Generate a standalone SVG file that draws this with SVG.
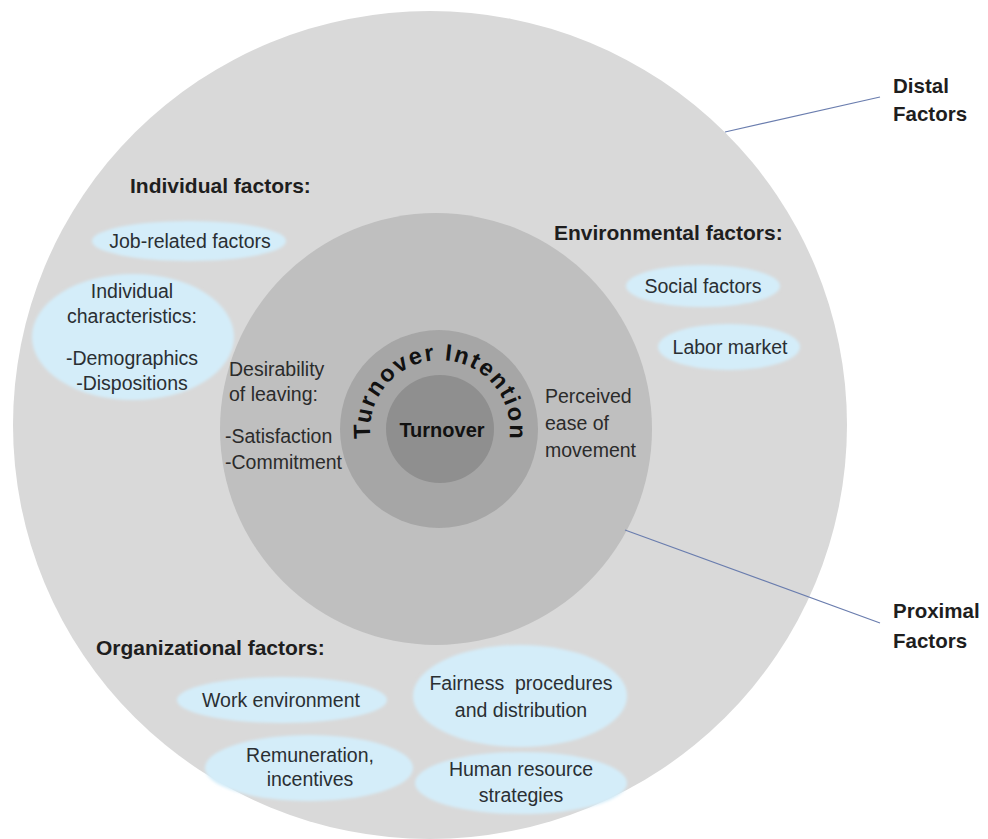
<svg xmlns="http://www.w3.org/2000/svg" width="988" height="839" viewBox="0 0 988 839">
  <style>
    text { font-family: "Liberation Sans", Arial, sans-serif; fill: #1e1e1e; }
    .hdr { font-size: 21px; font-weight: bold; }
    .side { font-size: 20.5px; font-weight: bold; }
    .lbl { font-size: 19.5px; fill: #2a2f33; }
    .ring { font-size: 19.5px; fill: #2b2b2b; }
    .pill { fill: #D4EDF9; filter: url(#soft); }
    .lead { stroke: #6A7DAE; stroke-width: 1.2; fill: none; }
  </style>
  <defs>
    <filter id="soft" x="-10%" y="-20%" width="120%" height="140%">
      <feGaussianBlur stdDeviation="1.6"/>
    </filter>
    <!-- baseline arc for the ring caption, r = 70 around (440, 430) -->
    <path id="arcTI" d="M 371.5 444.6 A 70 70 0 1 1 508.5 444.6"/>
  </defs>

  <rect width="988" height="839" fill="#ffffff"/>

  <!-- concentric layers -->
  <g id="distal">
    <ellipse cx="430" cy="425" rx="417" ry="414" fill="#D9D9D9"/>
  </g>
  <g id="proximal">
    <circle cx="436" cy="429" r="216" fill="#BFBFBF"/>
  </g>
  <g id="turnover-intention">
    <circle cx="439" cy="429" r="99" fill="#A6A6A6"/>
    <text style="font-size:23.5px;font-weight:bold;fill:#111">
      <textPath href="#arcTI" startOffset="50%" text-anchor="middle" textLength="236" lengthAdjust="spacing">Turnover Intention</textPath>
    </text>
  </g>
  <g id="turnover">
    <circle cx="440" cy="429" r="54" fill="#8F8F8F"/>
    <text x="442" y="437" text-anchor="middle" style="font-size:20px;font-weight:bold;fill:#111">Turnover</text>
  </g>

  <!-- proximal ring labels -->
  <g id="desirability">
    <text class="ring" x="229" y="376">Desirability</text>
    <text class="ring" x="229" y="401">of leaving:</text>
    <text class="ring" x="225" y="443">-Satisfaction</text>
    <text class="ring" x="225" y="469">-Commitment</text>
  </g>
  <g id="ease-of-movement">
    <text class="ring" x="545" y="403">Perceived</text>
    <text class="ring" x="545" y="430">ease of</text>
    <text class="ring" x="545" y="457">movement</text>
  </g>

  <!-- individual factors -->
  <g id="individual-factors">
    <text class="hdr" x="130" y="193">Individual factors:</text>
  </g>
  <g id="job-related">
    <ellipse class="pill" cx="189" cy="241" rx="97" ry="20"/>
    <text class="lbl" x="190" y="248" text-anchor="middle">Job-related factors</text>
  </g>
  <g id="individual-characteristics">
    <ellipse class="pill" cx="133" cy="337" rx="101" ry="63"/>
    <text class="lbl" x="132" y="298" text-anchor="middle">Individual</text>
    <text class="lbl" x="132" y="323" text-anchor="middle">characteristics:</text>
    <text class="lbl" x="132" y="365" text-anchor="middle">-Demographics</text>
    <text class="lbl" x="132" y="390" text-anchor="middle">-Dispositions</text>
  </g>

  <!-- environmental factors -->
  <g id="environmental-factors">
    <text class="hdr" x="554" y="240">Environmental factors:</text>
  </g>
  <g id="social">
    <ellipse class="pill" cx="703" cy="286" rx="77" ry="21"/>
    <text class="lbl" x="703" y="293" text-anchor="middle">Social factors</text>
  </g>
  <g id="labor-market">
    <ellipse class="pill" cx="729" cy="347" rx="71" ry="23"/>
    <text class="lbl" x="730" y="354" text-anchor="middle">Labor market</text>
  </g>

  <!-- organizational factors -->
  <g id="organizational-factors">
    <text class="hdr" x="96" y="655">Organizational factors:</text>
  </g>
  <g id="work-environment">
    <ellipse class="pill" cx="282" cy="700" rx="105" ry="23"/>
    <text class="lbl" x="281" y="707" text-anchor="middle">Work environment</text>
  </g>
  <g id="fairness">
    <ellipse class="pill" cx="520" cy="696" rx="107" ry="51"/>
    <text class="lbl" x="521" y="690" text-anchor="middle" xml:space="preserve">Fairness  procedures</text>
    <text class="lbl" x="521" y="717" text-anchor="middle">and distribution</text>
  </g>
  <g id="remuneration">
    <ellipse class="pill" cx="309" cy="768" rx="104" ry="33"/>
    <text class="lbl" x="310" y="762" text-anchor="middle">Remuneration,</text>
    <text class="lbl" x="310" y="786" text-anchor="middle">incentives</text>
  </g>
  <g id="hr-strategies">
    <ellipse class="pill" cx="521" cy="783" rx="106" ry="31"/>
    <text class="lbl" x="521" y="776" text-anchor="middle">Human resource</text>
    <text class="lbl" x="521" y="802" text-anchor="middle">strategies</text>
  </g>

  <!-- side captions -->
  <g id="distal-label">
    <text class="side" x="893" y="93">Distal</text>
    <text class="side" x="893" y="121">Factors</text>
  </g>
  <g id="proximal-label">
    <text class="side" x="893" y="618">Proximal</text>
    <text class="side" x="893" y="648">Factors</text>
  </g>

  <!-- leader lines -->
  <g id="connectors">
    <line class="lead" x1="725" y1="132" x2="880" y2="97"/>
    <line class="lead" x1="625" y1="530" x2="880" y2="623"/>
  </g>
</svg>
